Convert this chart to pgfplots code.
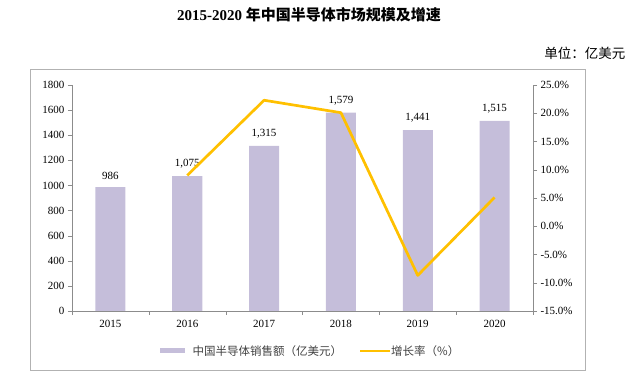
\documentclass[border=0pt]{standalone}
\usepackage{pgfplots}
\pgfplotsset{compat=1.18}
\usepackage{fontspec}
\setmainfont{Liberation Serif}
\newfontfamily\cjk{Noto Sans CJK SC}
\definecolor{barc}{HTML}{C5BEDA}
\definecolor{linec}{HTML}{FFC000}
\definecolor{axc}{HTML}{8C8C8C}
\definecolor{legt}{HTML}{404040}
\begin{document}
\begin{tikzpicture}
\begin{axis}[at={(72pt,68pt)}, anchor=south west, scale only axis,
  width=461pt, height=226pt,
  xmin=-0.5, xmax=5.5, ymin=0, ymax=1800,
  axis x line*=bottom, axis y line*=left,
  xtick={0,...,5}, xticklabels={2015,2016,2017,2018,2019,2020},
  major x tick style={draw=none},
  minor xtick={-0.5,0.5,1.5,2.5,3.5,4.5,5.5},
  ytick={0,200,...,1800},
  tick align=outside, major tick length=4pt, minor tick length=4pt,
  axis line style={axc,-}, tick style={axc},
  /pgf/number format/assume math mode=true,
  /pgf/number format/1000 sep={},
  tick label style={font=\fontsize{11}{13}\selectfont, black},
  xticklabel style={yshift=-2pt},
  nodes near coords={\pgfmathprintnumber[1000 sep={,}]{\pgfplotspointmeta}},
  nodes near coords style={font=\fontsize{11}{13}\selectfont, anchor=south, yshift=4pt},
]
\addplot[ybar, bar width=30pt, fill=barc, draw=none]
  coordinates {(0,986) (1,1075) (2,1315) (3,1579) (4,1441) (5,1515)};
\end{axis}
\begin{axis}[at={(72pt,68pt)}, anchor=south west, scale only axis,
  width=461pt, height=226pt,
  xmin=-0.5, xmax=5.5, ymin=-15, ymax=25,
  axis x line=none, axis y line*=right,
  ytick={-15,-10,...,25},
  yticklabel={\pgfmathprintnumber[assume math mode=true,fixed,fixed zerofill,precision=1]{\tick}\%},
  tick align=outside, major tick length=4pt,
  axis line style={axc,-}, tick style={axc},
  tick label style={font=\fontsize{11}{13}\selectfont, black},
]
\addplot[linec, line width=2.7pt, line join=round]
  coordinates {(1,9.0) (2,22.3) (3,20.1) (4,-8.7) (5,5.1)};
\end{axis}
\draw[gray!60, line width=0.8pt] (30pt,9pt) rectangle (585pt,310pt);
\node[font=\fontsize{15}{18}\selectfont\bfseries] at (309pt,364pt) {2015-2020 {\cjk 年中国半导体市场规模及增速}};
\node[anchor=east, font=\cjk\fontsize{13.5}{16}\selectfont] at (629pt,326pt) {单位：亿美元};
\fill[barc] (160pt,25.5pt) rectangle (185pt,31pt);
\node[anchor=west, text=legt, font=\cjk\fontsize{11.5}{14}\selectfont] at (189pt,28pt) {中国半导体销售额（亿美元）};
\draw[linec, line width=2.7pt] (360pt,28pt) -- (390pt,28pt);
\node[anchor=west, text=legt, font=\cjk\fontsize{11.5}{14}\selectfont, inner xsep=1pt] at (390pt,28pt) {增长率（\%）};
\pgfresetboundingbox
\path (0,0) rectangle (640pt,379pt);
\end{tikzpicture}
\end{document}
